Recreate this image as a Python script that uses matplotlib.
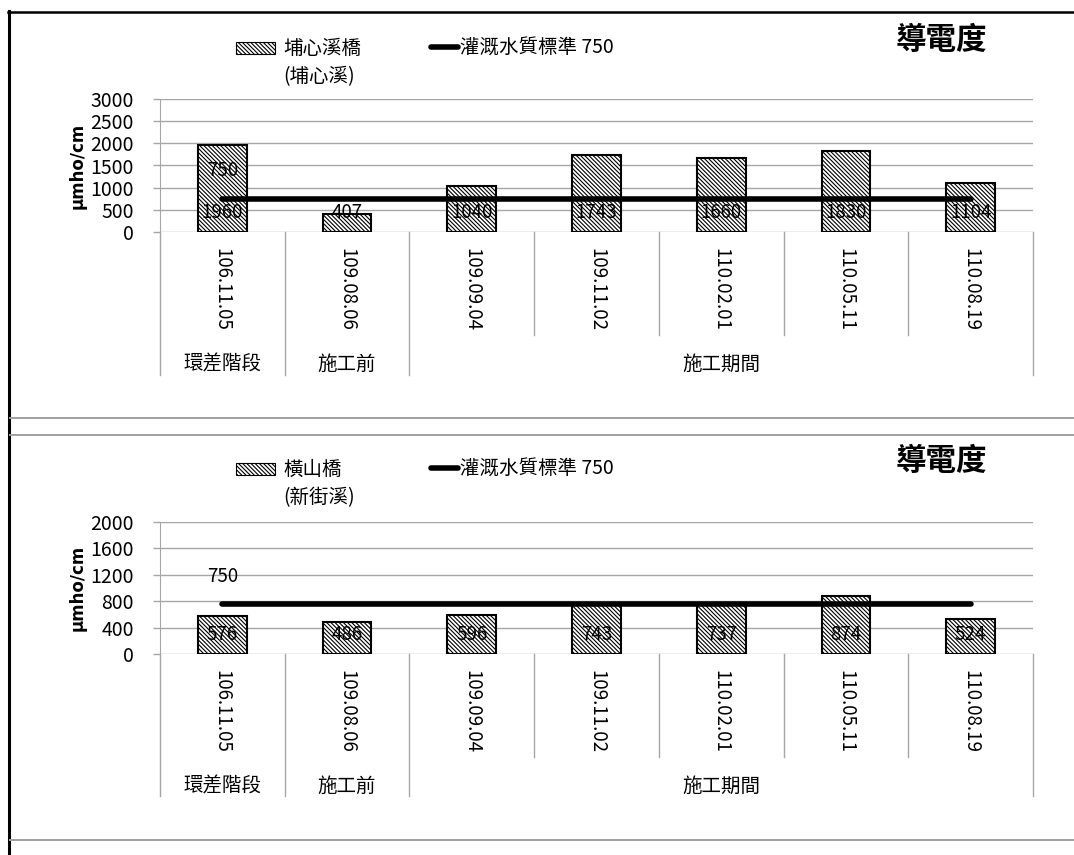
import matplotlib
matplotlib.use("Agg")
import matplotlib.pyplot as plt
from matplotlib.patches import Rectangle
from matplotlib.lines import Line2D

plt.rcParams['font.family'] = ['Noto Sans CJK TC', 'DejaVu Sans']
plt.rcParams['hatch.linewidth'] = 0.8

W, H = 1074, 855

# data
dates = ['106.11.05', '109.08.06', '109.09.04', '109.11.02', '110.02.01', '110.05.11', '110.08.19']
stages = ['環差階段', '施工前', '施工期間']
stage_span = [(0, 0), (1, 1), (2, 6)]
top_vals = [1960, 407, 1040, 1743, 1660, 1830, 1104]
bot_vals = [576, 486, 596, 743, 737, 874, 524]
standard = 750
std_label = '灌溉水質標準 750'
title = '導電度'
ylabel = 'μmho/cm'

GRID = '#a6a6a6'
HATCH = '\\' * 8


def fx(px):
    return px / W


def fy(py):
    return 1 - py / H


def pt(px):
    return px * 0.72


fig = plt.figure(figsize=(W / 100, H / 100), dpi=100)

# panel frame lines
fig.add_artist(Line2D([fx(9), fx(9)], [fy(11), fy(855)], color='black', lw=2.2))
fig.add_artist(Line2D([fx(8), fx(1074)], [fy(12), fy(12)], color='black', lw=1.8))
for yy in [418, 435, 840]:
    fig.add_artist(Line2D([fx(10), fx(1074)], [fy(yy), fy(yy)], color='#a0a0a0', lw=1.4))


def panel(top_px, bottom_px, vals, ymax, step, station, river, leg_y):
    ax = fig.add_axes([fx(160), fy(bottom_px), fx(1033) - fx(160), (bottom_px - top_px) / H])
    x = list(range(len(vals)))
    ax.bar(x, vals, width=0.39, color='white', edgecolor='black', lw=1.5,
           hatch=HATCH, zorder=3)
    ax.plot([x[0], x[-1]], [standard, standard], color='black', lw=4,
            solid_capstyle='round', zorder=4)
    ax.set_xlim(-0.5, len(vals) - 0.5)
    ax.set_ylim(0, ymax)
    ax.set_yticks(range(0, ymax + 1, step))
    ax.tick_params(axis='y', length=5, color=GRID, width=1, labelsize=14, pad=pt(19))
    ax.set_xticks([])
    ax.yaxis.grid(True, color=GRID, lw=1)
    ax.set_axisbelow(True)
    for s in ['top', 'right', 'bottom']:
        ax.spines[s].set_visible(False)
    ax.spines['left'].set_color(GRID)
    ax.set_ylabel(ylabel, fontsize=12, fontweight='bold', family='DejaVu Sans', labelpad=3)

    # value labels at bar base
    for i, v in enumerate(vals):
        ax.annotate(str(v), xy=(i, 0), xytext=(0, pt(20)), textcoords='offset points',
                    ha='center', va='center', fontsize=13.5, zorder=5)
    ax.annotate(str(standard), xy=(0, standard), xytext=(0, pt(28)), textcoords='offset points',
                ha='center', va='center', fontsize=13.5, zorder=5)

    # category area below axis
    tr = ax.get_xaxis_transform()
    bounds = [s[0] - 0.5 for s in stage_span] + [len(vals) - 0.5]
    for b in range(len(vals) + 1):
        xb = b - 0.5
        low = -1.075 if xb in bounds else -0.775
        ax.plot([xb, xb], [0, low], color=GRID, lw=1, transform=tr, clip_on=False)
    for i, d in enumerate(dates):
        ax.annotate(d, xy=(i, 0), xycoords=tr, xytext=(0, -pt(16)), textcoords='offset points',
                    rotation=270, ha='center', va='top', fontsize=13.5)
    for name, (a, b) in zip(stages, stage_span):
        ax.annotate(name, xy=((a + b) / 2, 0), xycoords=tr, xytext=(0, -pt(132)),
                    textcoords='offset points', ha='center', va='center', fontsize=14)

    # legend
    fig.add_artist(Rectangle((fx(236), fy(leg_y + 6)), fx(39), 12 / H, transform=fig.transFigure,
                             facecolor='white', edgecolor='black', lw=0.8, hatch=HATCH))
    fig.text(fx(283), fy(leg_y), station, ha='left', va='center', fontsize=14)
    fig.text(fx(283), fy(leg_y + 29), river, ha='left', va='center', fontsize=14)
    fig.add_artist(Line2D([fx(431), fx(458)], [fy(leg_y - 1), fy(leg_y - 1)], color='black', lw=4,
                          solid_capstyle='round', transform=fig.transFigure))
    fig.text(fx(460), fy(leg_y), std_label, ha='left', va='center', fontsize=14)
    fig.text(fx(941), fy(leg_y - 8), title, ha='center', va='center', fontsize=22, fontweight='bold')
    return ax


panel(99, 232, top_vals, 3000, 500, '埔心溪橋', '(埔心溪)', 48)
panel(521.7, 654, bot_vals, 2000, 400, '橫山橋', '(新街溪)', 469)

fig.savefig('out.png', dpi=100, facecolor='white')
